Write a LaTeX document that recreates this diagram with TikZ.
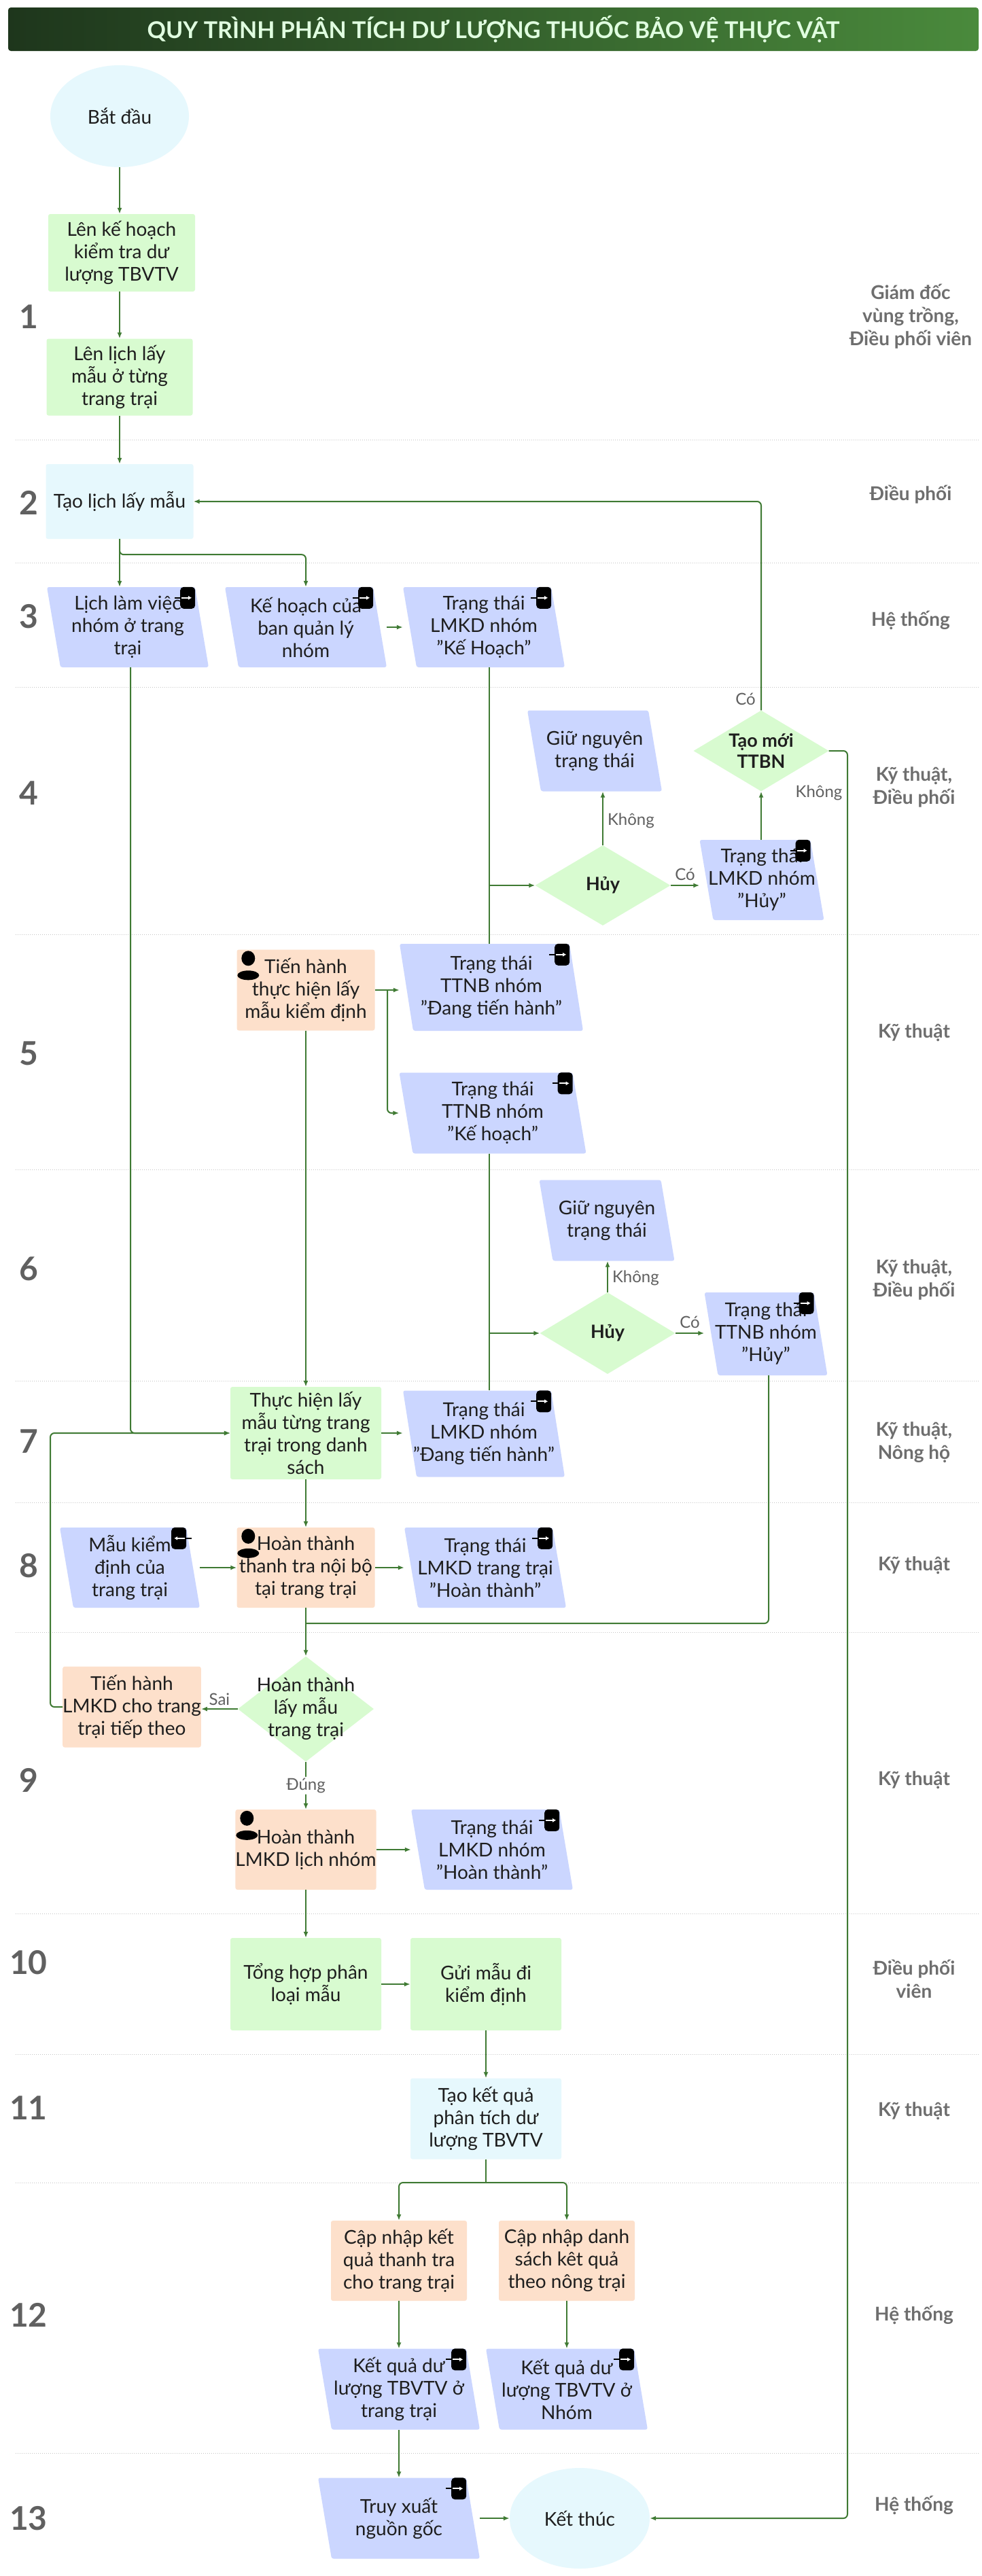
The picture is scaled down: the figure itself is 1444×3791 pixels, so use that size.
\documentclass[tikz,border=0pt]{standalone}
\usepackage{fontspec}
\setmainfont{Lato}
\usetikzlibrary{shapes.geometric,arrows.meta}
\definecolor{gfill}{HTML}{D8FBD0}
\definecolor{lbfill}{HTML}{E6F8FD}
\definecolor{pfill}{HTML}{CBD6FF}
\definecolor{pkfill}{HTML}{FDE0CB}
\definecolor{lgreen}{HTML}{3F7A33}
\definecolor{tdark}{HTML}{1E1E1E}
\definecolor{lanec}{HTML}{C4C4C4}
\definecolor{numc}{HTML}{606060}
\definecolor{rolec}{HTML}{6E6E6E}
\definecolor{ttl1}{HTML}{1E361C}
\definecolor{ttl2}{HTML}{4A8A3C}
\newcommand{\myicon}[1]{%
  \fill[black,rounded corners=5pt] ([xshift=-42pt]#1.north east) rectangle ([xshift=-20pt,yshift=-32pt]#1.north east);
  \draw[black,line width=2pt] ([xshift=-50pt,yshift=-16pt]#1.north east) -- ([xshift=-40pt,yshift=-16pt]#1.north east);
  \draw[white,line width=2pt,-{Latex[length=5pt,width=6pt]}] ([xshift=-40pt,yshift=-16pt]#1.north east) -- ([xshift=-25pt,yshift=-16pt]#1.north east);}
\newcommand{\myiconin}[1]{%
  \fill[black,rounded corners=5pt] ([xshift=-42pt]#1.north east) rectangle ([xshift=-20pt,yshift=-32pt]#1.north east);
  \draw[black,line width=2pt] ([xshift=-22pt,yshift=-16pt]#1.north east) -- ([xshift=-12pt,yshift=-16pt]#1.north east);
  \draw[white,line width=2pt,-{Latex[length=5pt,width=6pt]}] ([xshift=-22pt,yshift=-16pt]#1.north east) -- ([xshift=-38pt,yshift=-16pt]#1.north east);}
\newcommand{\myperson}[1]{%
  \fill[black] ([xshift=17pt,yshift=-13pt]#1.north west) ellipse [x radius=10pt,y radius=11pt];
  \fill[black] ([xshift=17pt,yshift=-38pt]#1.north west) ellipse [x radius=16pt,y radius=7pt];}
\begin{document}
\begin{tikzpicture}[x=1pt,y=-1pt,
  every node/.style={font=\fontsize{28}{33}\selectfont,text=tdark,align=center,inner sep=0pt},
  sz/.style 2 args={minimum width=#1,minimum height=#2},
  box/.style={rectangle,rounded corners=3pt},
  gbox/.style={box,fill=gfill},
  lbox/.style={box,fill=lbfill},
  kbox/.style={box,fill=pkfill},
  para/.style={rectangle,path picture={\fill[pfill,rounded corners=3pt] (path picture bounding box.north west) -- ([xshift=-20pt]path picture bounding box.north east) -- (path picture bounding box.south east) -- ([xshift=20pt]path picture bounding box.south west) -- cycle;}},
  dia/.style={diamond,fill=gfill,inner sep=0pt},
  ell/.style={ellipse,fill=lbfill},
  arr/.style={draw=lgreen,line width=2pt,-{Latex[length=9pt,width=7pt]},rounded corners=6pt},
  ln/.style={draw=lgreen,line width=2pt,rounded corners=6pt},
  lab/.style={font=\fontsize{24}{28}\selectfont,text=numc},
  num/.style={font=\fontsize{48}{50}\selectfont\bfseries,text=numc},
  role/.style={font=\fontsize{28}{34}\selectfont\bfseries,text=rolec},
  lane/.style={draw=lanec,line width=1pt,dotted}]
\useasboundingbox (0,0) rectangle (1444,3791);
\fill[white] (0,0) rectangle (1444,3791);
% title
\shade[left color=ttl1,right color=ttl2,rounded corners=4pt] (12,11) rectangle (1440,75);
\node[font=\fontsize{34}{36}\selectfont\bfseries,text=white!88!green] (title) at (726,43) {QUY TRÌNH PHÂN TÍCH DƯ LƯỢNG THUỐC BẢO VỆ THỰC VẬT};
% lanes
\foreach \yy in {647,828,1011,1375,1721,2032,2211,2402,2816,3023,3212,3610}
  \draw[lane] (23,\yy) -- (1440,\yy);
\foreach \n/\yy in {1/466,2/740,3/907,4/1167,5/1550,6/1867,7/2121,8/2304,9/2620,10/2888,11/3102,12/3407,13/3706}
  \node[num] (num\n) at (42,\yy) {\n};
\node[role] (r1) at (1340,466) {Giám đốc\\vùng trồng,\\Điều phối viên};
\node[role] (r2) at (1340,728) {Điều phối};
\node[role] (r3) at (1340,913) {Hệ thống};
\node[role] (r4) at (1345,1158) {Kỹ thuật,\\Điều phối};
\node[role] (r5) at (1345,1520) {Kỹ thuật};
\node[role] (r6) at (1345,1883) {Kỹ thuật,\\Điều phối};
\node[role] (r7) at (1345,2123) {Kỹ thuật,\\Nông hộ};
\node[role] (r8) at (1345,2304) {Kỹ thuật};
\node[role] (r9) at (1345,2620) {Kỹ thuật};
\node[role] (r10) at (1345,2912) {Điều phối\\viên};
\node[role] (r11) at (1345,3107) {Kỹ thuật};
\node[role] (r12) at (1345,3407) {Hệ thống};
\node[role] (r13) at (1345,3687) {Hệ thống};
% nodes
\node[ell,sz={204pt}{150pt}] (start) at (176,171) {Bắt đầu};
\node[gbox,sz={216pt}{114pt}] (b1) at (179,372) {Lên kế hoạch\\kiểm tra dư\\lượng TBVTV};
\node[gbox,sz={215pt}{113pt}] (b2) at (176,555) {Lên lịch lấy\\mẫu ở từng\\trang trại};
\node[lbox,sz={217pt}{110pt}] (b3) at (176,738) {Tạo lịch lấy mẫu};
\node[para,sz={238pt}{118pt}] (p3a) at (188,923) {Lịch làm việc\\nhóm ở trang\\trại};
\node[para,sz={238pt}{118pt}] (p3b) at (450,923) {Kế hoạch của\\ban quản lý\\nhóm};
\node[para,sz={238pt}{118pt}] (p3c) at (712,923) {Trạng thái\\LMKD nhóm\\"Kế Hoạch"};
\node[para,sz={198pt}{119pt}] (g4) at (875,1105) {Giữ nguyên\\trạng thái};
\node[dia,sz={199pt}{119pt}] (tm) at (1120,1105) {};
\node[font=\fontsize{27}{31}\selectfont\bfseries] (tmt) at (tm) {Tạo mới\\TTBN};
\node[dia,sz={199pt}{118pt}] (h4) at (887,1303) {};
\node[font=\fontsize{27}{31}\selectfont\bfseries] (h4t) at (h4) {Hủy};
\node[para,sz={183pt}{118pt}] (p4) at (1121,1295) {Trạng thái\\LMKD nhóm\\"Hủy"};
\node[kbox,sz={203pt}{119pt}] (t5) at (450,1457) {Tiến hành\\thực hiện lấy\\mẫu kiểm định};
\node[para,sz={270pt}{128pt}] (p5a) at (723,1453) {Trạng thái\\TTNB nhóm\\"Đang tiến hành"};
\node[para,sz={275pt}{119pt}] (p5b) at (725,1638) {Trạng thái\\TTNB nhóm\\"Kế hoạch"};
\node[para,sz={199pt}{119pt}] (g6) at (893,1796) {Giữ nguyên\\trạng thái};
\node[dia,sz={199pt}{120pt}] (h6) at (894,1962) {};
\node[font=\fontsize{27}{31}\selectfont\bfseries] (h6t) at (h6) {Hủy};
\node[para,sz={181pt}{122pt}] (p6) at (1127,1963) {Trạng thái\\TTNB nhóm\\"Hủy"};
\node[gbox,sz={222pt}{136pt}] (t7) at (450,2109) {Thực hiện lấy\\mẫu từng trang\\trại trong danh\\sách};
\node[para,sz={238pt}{127pt}] (p7) at (712,2110) {Trạng thái\\LMKD nhóm\\"Đang tiến hành"};
\node[para,sz={206pt}{118pt}] (m8) at (191,2307) {Mẫu kiểm\\định của\\trang trại};
\node[kbox,sz={203pt}{118pt}] (h8) at (450,2307) {Hoàn thành\\thanh tra nội bộ\\tại trang trại};
\node[para,sz={238pt}{118pt}] (p8) at (714,2307) {Trạng thái\\LMKD trang trại\\"Hoàn thành"};
\node[dia,sz={200pt}{155pt}] (d9) at (450,2515) {};
\node (d9t) at (d9) {Hoàn thành\\lấy mẫu\\trang trại};
\node[kbox,sz={200pt}{119pt}] (n9) at (194,2512) {Tiến hành\\LMKD cho trang\\trại tiếp theo};
\node[kbox,sz={201pt}{118pt}] (h9) at (450,2722) {Hoàn thành\\LMKD lịch nhóm};
\node[para,sz={238pt}{118pt}] (p9) at (724,2722) {Trạng thái\\LMKD nhóm\\"Hoàn thành"};
\node[gbox,sz={222pt}{136pt}] (t10) at (450,2920) {Tổng hợp phân\\loại mẫu};
\node[gbox,sz={222pt}{136pt}] (g10) at (715,2920) {Gửi mẫu đi\\kiểm định};
\node[lbox,sz={222pt}{119pt}] (k11) at (715,3118) {Tạo kết quả\\phân tích dư\\lượng TBVTV};
\node[kbox,sz={200pt}{118pt}] (c12a) at (587,3327) {Cập nhập kết\\quả thanh tra\\cho trang trại};
\node[kbox,sz={200pt}{118pt}] (c12b) at (834,3327) {Cập nhập danh\\sách kêt quả\\theo nông trại};
\node[para,sz={238pt}{119pt}] (r12a) at (587,3516) {Kết quả dư\\lượng TBVTV ở\\trang trại};
\node[para,sz={238pt}{119pt}] (r12b) at (834,3516) {Kết quả dư\\lượng TBVTV ở\\Nhóm};
\node[para,sz={238pt}{119pt}] (tx) at (587,3706) {Truy xuất\\nguồn gốc};
\node[ell,sz={206pt}{148pt}] (end) at (853,3706) {Kết thúc};
% icons
\foreach \nn in {p3a,p3b,p3c,p4,p5a,p5b,p6,p7,p8,p9,r12a,r12b,tx} {\myicon{\nn}}
\myiconin{m8}
\foreach \nn in {t5,h8,h9} {\myperson{\nn}}
% connectors
\draw[arr] (start.south) -- (start.south |- b1.north);
\draw[arr] (start.south |- b1.south) -- (b2.north);
\draw[arr] (b2) -- (b3);
\draw[arr] (b3.south) -- (b3.south |- p3a.north);
\draw[arr] (b3.south) -- ++(0,23) -| (p3b.north);
\draw[arr] (p3b) -- (p3c);
\draw[arr] ([xshift=4pt]p3a.south) |- (t7.west);
\draw[ln] ([xshift=8pt]p3c.south) -- ([xshift=8pt]p3c.south |- p5a.north);
\draw[arr] ([xshift=8pt]p3c.south |- h4.west) -- (h4.west);
\draw[arr] (h4.north) -- (h4.north |- g4.south) node[lab,pos=0.45,right=6pt] (lk4) {Không};
\draw[arr] (h4.east) -- (h4.east -| p4.west) node[lab,midway,above=6pt] (lc4) {Có};
\draw[arr] (p4.north -| tm.south) -- (tm.south);
\draw[arr] (tm.north) |- (b3.east);
\node[lab,anchor=east] (lc4b) at (1112,1029) {Có};
\draw[arr] (tm.east) -- (1247,1105) |- (end.east);
\node[lab] (lk4b) at (1205,1167) {Không};
\draw[arr] (t5.east) -- (t5.east -| p5a.west);
\draw[arr] (570,1457) |- (p5b.west);
\draw[arr] (t5.south) -- (t7.north);
\draw[ln] ([xshift=-5pt]p5b.south) -- ([xshift=-5pt]p5b.south |- p7.north);
\draw[arr] ([xshift=-5pt]p5b.south |- h6.west) -- (h6.west);
\draw[arr] (h6.north) -- (h6.north |- g6.south) node[lab,pos=0.45,right=6pt] (lk6) {Không};
\draw[arr] (h6.east) -- (h6.east -| p6.west) node[lab,midway,above=6pt] (lc6) {Có};
\draw[ln] (p6.south -| 1131,0) -- (1131,2389) -- (450,2389);
\draw[arr] (t7.east) -- (t7.east -| p7.west);
\draw[arr] (t7) -- (h8);
\draw[arr] (m8) -- (h8);
\draw[arr] (h8) -- (p8);
\draw[arr] (h8.south) -- (d9.north);
\draw[arr] (d9.west) -- (d9.west -| n9.east) node[lab,midway,above=4pt] (ls) {Sai};
\draw[arr] (n9.west) -- ++(-18,0) |- (t7.west);
\draw[arr] (d9.south) -- (h9.north) node[lab,midway,fill=white,inner sep=2pt] (ld) {Đúng};
\draw[arr] (h9) -- (p9);
\draw[arr] (h9) -- (t10);
\draw[arr] (t10) -- (g10);
\draw[arr] (g10) -- (k11);
\draw[ln] (k11.south) -- (715,3212);
\draw[arr] (715,3212) -| (c12a.north);
\draw[arr] (715,3212) -| (c12b.north);
\draw[arr] (c12a) -- (r12a);
\draw[arr] (c12b) -- (r12b);
\draw[arr] (r12a) -- (tx);
\draw[arr] (tx) -- (end);
\end{tikzpicture}
\end{document}
